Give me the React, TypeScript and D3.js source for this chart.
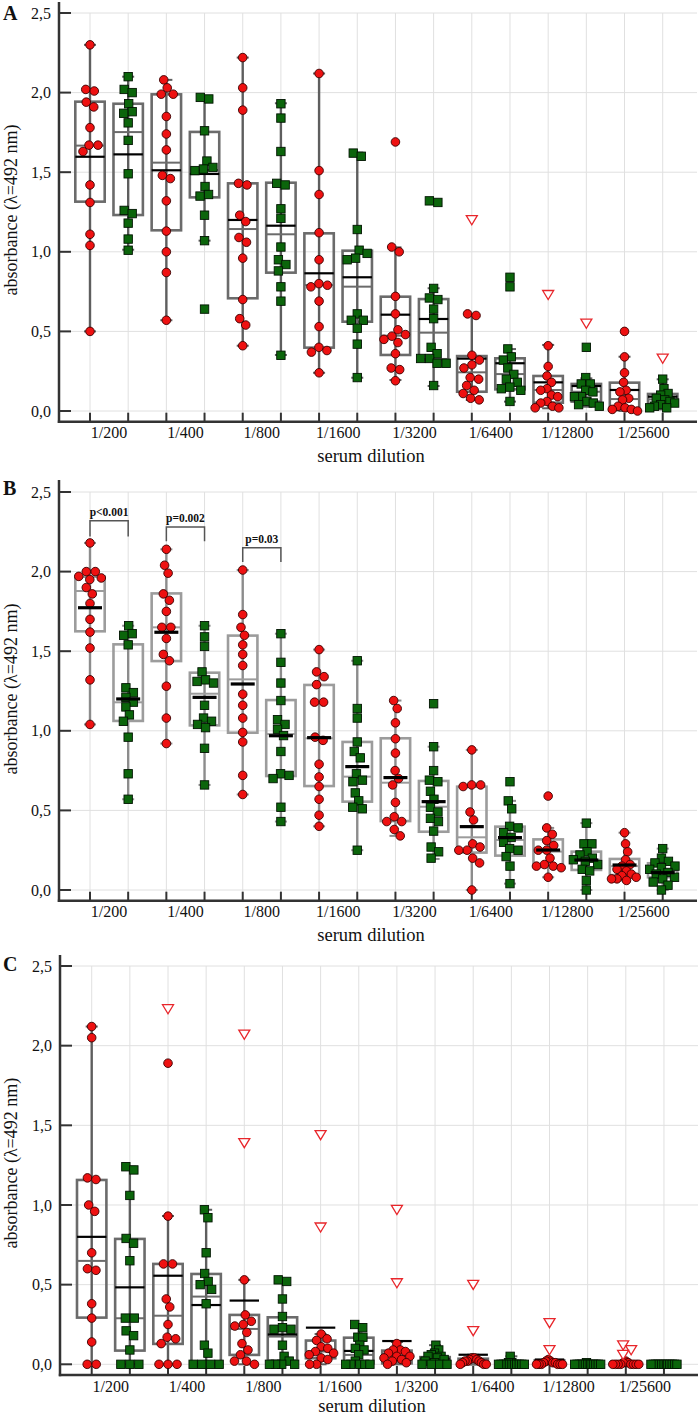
import React from "react";
import * as d3 from "d3";

// ---------------- DATA ----------------
const dilutions = ["1/200", "1/400", "1/800", "1/1600", "1/3200", "1/6400", "1/12800", "1/25600"];
const yTicks = [0, 0.5, 1, 1.5, 2, 2.5];
const yTickLabels = ["0,0", "0,5", "1,0", "1,5", "2,0", "2,5"];
const panelLetters = ["A", "B", "C"];
const xTitle = "serum dilution";
const yTitle = "absorbance (λ=492 nm)";

// Panel A
const A_red = [
  [2.30, 2.02, 2.01, 1.94, 1.91, 1.78, 1.67, 1.67, 1.63, 1.42, 1.31, 1.11, 1.04, 0.50],
  [2.08, 2.03, 1.99, 1.99, 1.85, 1.74, 1.64, 1.48, 1.46, 1.32, 1.13, 1.00, 0.87, 0.57],
  [2.22, 2.03, 1.89, 1.43, 1.42, 1.23, 1.19, 1.09, 1.06, 0.96, 0.70, 0.58, 0.54, 0.41],
  [2.12, 1.51, 1.36, 1.12, 0.95, 0.80, 0.79, 0.78, 0.69, 0.53, 0.40, 0.38, 0.37, 0.24],
  [1.69, 1.03, 1.00, 0.72, 0.61, 0.51, 0.48, 0.47, 0.45, 0.43, 0.36, 0.27, 0.26, 0.19],
  [0.61, 0.60, 0.35, 0.32, 0.29, 0.27, 0.21, 0.20, 0.16, 0.13, 0.11, 0.08, 0.07],
  [0.41, 0.28, 0.22, 0.18, 0.14, 0.13, 0.10, 0.09, 0.06, 0.05, 0.03, 0.02, 0.02],
  [0.50, 0.34, 0.24, 0.18, 0.13, 0.12, 0.08, 0.07, 0.03, 0.02, 0.01, 0.01, 0.00],
];
const A_green = [
  [2.10, 2.02, 2.00, 1.93, 1.88, 1.87, 1.81, 1.70, 1.49, 1.26, 1.24, 1.18, 1.08, 1.01],
  [1.97, 1.96, 1.76, 1.57, 1.53, 1.52, 1.51, 1.41, 1.36, 1.35, 1.23, 1.07, 0.64],
  [1.93, 1.84, 1.63, 1.43, 1.42, 1.27, 1.21, 1.03, 0.95, 0.92, 0.88, 0.78, 0.69, 0.35],
  [1.62, 1.60, 1.14, 1.01, 0.99, 0.96, 0.95, 0.61, 0.57, 0.57, 0.52, 0.42, 0.21],
  [1.32, 1.31, 0.77, 0.71, 0.70, 0.64, 0.58, 0.40, 0.36, 0.33, 0.33, 0.30, 0.30, 0.16],
  [0.84, 0.78, 0.39, 0.34, 0.32, 0.27, 0.23, 0.20, 0.18, 0.15, 0.14, 0.13, 0.06],
  [0.40, 0.21, 0.17, 0.17, 0.13, 0.12, 0.09, 0.09, 0.06, 0.05, 0.04, 0.03],
  [0.20, 0.14, 0.11, 0.10, 0.08, 0.07, 0.06, 0.05, 0.04, 0.03, 0.02, 0.02],
];
// box stats: [whiskerLow, q1, median, q3, whiskerHigh, mean]
const A_redBox = [
  [0.50, 1.315, 1.667, 1.943, 2.30, 1.597],
  [0.57, 1.135, 1.56, 1.989, 2.08, 1.512],
  [0.41, 0.708, 1.143, 1.43, 2.22, 1.20],
  [0.24, 0.398, 0.791, 1.116, 2.12, 0.865],
  [0.195, 0.352, 0.473, 0.718, 1.028, 0.605],
  [0.069, 0.121, 0.243, 0.345, 0.607, 0.329],
  [0.017, 0.052, 0.132, 0.22, 0.415, 0.18],
  [0.0, 0.006, 0.075, 0.178, 0.341, 0.132],
];
const A_greenBox = [
  [1.013, 1.231, 1.752, 1.93, 2.10, 1.612],
  [1.07, 1.342, 1.514, 1.753, 1.97, 1.489],
  [0.352, 0.869, 1.11, 1.434, 1.933, 1.164],
  [0.209, 0.561, 0.781, 1.007, 1.623, 0.84],
  [0.157, 0.325, 0.492, 0.703, 0.771, 0.578],
  [0.059, 0.136, 0.232, 0.331, 0.389, 0.30],
  [0.027, 0.059, 0.121, 0.17, 0.205, 0.157],
  [0.01, 0.038, 0.073, 0.107, 0.199, 0.09],
];
const A_redOut = [[], [], [], [], [], [1.20], [0.73], []];
const A_greenOut = [[], [], [], [], [], [], [0.55], [0.33]];

// Panel B
const B_red = [
  [2.18, 2.00, 2.00, 1.97, 1.96, 1.95, 1.90, 1.86, 1.80, 1.70, 1.62, 1.52, 1.32, 1.04],
  [2.14, 2.04, 1.99, 1.86, 1.82, 1.75, 1.65, 1.65, 1.58, 1.48, 1.44, 1.28, 1.08, 0.92],
  [2.01, 1.73, 1.65, 1.60, 1.54, 1.48, 1.41, 1.23, 1.16, 1.08, 0.99, 0.93, 0.72, 0.60],
  [1.51, 1.37, 1.34, 1.29, 1.18, 1.18, 0.96, 0.94, 0.79, 0.71, 0.65, 0.57, 0.47, 0.40],
  [1.19, 1.14, 1.05, 0.95, 0.86, 0.75, 0.70, 0.66, 0.55, 0.46, 0.43, 0.43, 0.38, 0.34],
  [0.88, 0.66, 0.66, 0.65, 0.49, 0.44, 0.29, 0.27, 0.25, 0.25, 0.20, 0.17, 0.00],
  [0.59, 0.39, 0.35, 0.31, 0.28, 0.25, 0.25, 0.20, 0.16, 0.15, 0.15, 0.14, 0.08],
  [0.36, 0.29, 0.24, 0.19, 0.16, 0.15, 0.13, 0.12, 0.10, 0.09, 0.08, 0.07, 0.07, 0.06],
];
const B_green = [
  [1.66, 1.61, 1.60, 1.54, 1.27, 1.24, 1.21, 1.18, 1.15, 1.10, 1.06, 0.96, 0.73, 0.57],
  [1.66, 1.59, 1.53, 1.37, 1.32, 1.31, 1.30, 1.16, 1.08, 1.06, 1.04, 1.02, 0.89, 0.66],
  [1.61, 1.43, 1.30, 1.19, 1.07, 1.04, 1.01, 0.97, 0.87, 0.73, 0.72, 0.70, 0.52, 0.43],
  [1.44, 1.14, 1.08, 0.93, 0.87, 0.83, 0.73, 0.69, 0.68, 0.61, 0.56, 0.52, 0.51, 0.25],
  [1.17, 0.90, 0.75, 0.69, 0.68, 0.62, 0.57, 0.52, 0.49, 0.45, 0.43, 0.37, 0.27, 0.24, 0.20],
  [0.68, 0.56, 0.51, 0.40, 0.39, 0.36, 0.33, 0.30, 0.26, 0.25, 0.21, 0.15, 0.04],
  [0.42, 0.29, 0.29, 0.24, 0.22, 0.20, 0.19, 0.18, 0.16, 0.13, 0.12, 0.06, 0.00],
  [0.26, 0.20, 0.18, 0.17, 0.15, 0.14, 0.13, 0.11, 0.10, 0.08, 0.07, 0.05, 0.03, 0.00],
];
const B_redBox = [
  [1.04, 1.625, 1.878, 1.968, 2.18, 1.773],
  [0.92, 1.438, 1.65, 1.863, 2.14, 1.619],
  [0.60, 0.988, 1.323, 1.598, 2.01, 1.294],
  [0.40, 0.653, 0.953, 1.288, 1.51, 0.957],
  [0.34, 0.433, 0.674, 0.953, 1.19, 0.706],
  [0.00, 0.235, 0.331, 0.649, 0.88, 0.398],
  [0.08, 0.147, 0.241, 0.318, 0.39, 0.251],
  [0.06, 0.094, 0.15, 0.195, 0.36, 0.157],
];
const B_greenBox = [
  [0.57, 1.062, 1.179, 1.543, 1.66, 1.20],
  [0.66, 1.034, 1.233, 1.365, 1.66, 1.21],
  [0.43, 0.716, 0.98, 1.193, 1.61, 0.969],
  [0.25, 0.555, 0.712, 0.93, 1.44, 0.775],
  [0.195, 0.366, 0.523, 0.685, 0.90, 0.555],
  [0.04, 0.216, 0.314, 0.398, 0.56, 0.329],
  [0.00, 0.126, 0.19, 0.241, 0.42, 0.188],
  [0.00, 0.08, 0.121, 0.168, 0.26, 0.109],
];
const B_redOut = [[], [], [], [], [], [], [], []];
const B_greenOut = [[], [], [], [], [], [], [], []];
const pLabels = ["p<0.001", "p=0.002", "p=0.03"];
const pBracketTop = [2.32, 2.28, 2.15];
const pBracketLeg = [2.22, 2.19, 2.06];

// Panel C
const C_red = [
  [2.12, 2.05, 1.17, 1.16, 1.00, 0.96, 0.70, 0.60, 0.59, 0.38, 0.29, 0.14, 0.00, 0.00],
  [1.89, 0.93, 0.63, 0.63, 0.41, 0.36, 0.25, 0.17, 0.16, 0.13, 0.00, 0.00, 0.00],
  [0.53, 0.31, 0.27, 0.25, 0.24, 0.20, 0.13, 0.09, 0.06, 0.02, 0.02, 0.00],
  [0.19, 0.16, 0.15, 0.11, 0.10, 0.08, 0.07, 0.06, 0.04, 0.03, 0.00, 0.00],
  [0.13, 0.09, 0.09, 0.08, 0.07, 0.05, 0.05, 0.04, 0.03, 0.02, 0.01, 0.00],
  [0.04, 0.04, 0.03, 0.03, 0.02, 0.02, 0.02, 0.01, 0.01, 0.00, 0.00, 0.00],
  [0.03, 0.02, 0.02, 0.01, 0.01, 0.01, 0.00, 0.00, 0.00, 0.00, 0.00, 0.00],
  [0.02, 0.01, 0.01, 0.00, 0.00, 0.00, 0.00, 0.00, 0.00, 0.00, 0.00],
];
const C_green = [
  [1.24, 1.22, 1.06, 0.79, 0.76, 0.65, 0.29, 0.29, 0.21, 0.18, 0.09, 0.00, 0.00, 0.00],
  [0.97, 0.92, 0.70, 0.57, 0.52, 0.50, 0.47, 0.38, 0.12, 0.07, 0.00, 0.00, 0.00, 0.00],
  [0.53, 0.52, 0.41, 0.30, 0.23, 0.22, 0.22, 0.12, 0.05, 0.02, 0.00, 0.00, 0.00, 0.00],
  [0.25, 0.23, 0.17, 0.17, 0.12, 0.10, 0.09, 0.06, 0.02, 0.00, 0.00, 0.00, 0.00, 0.00],
  [0.12, 0.09, 0.07, 0.06, 0.05, 0.05, 0.04, 0.03, 0.02, 0.01, 0.00, 0.00, 0.00, 0.00],
  [0.05, 0.01, 0.01, 0.00, 0.00, 0.00, 0.00, 0.00, 0.00, 0.00, 0.00, 0.00],
  [0.01, 0.00, 0.00, 0.00, 0.00, 0.00, 0.00, 0.00, 0.00, 0.00, 0.00, 0.00],
  [0.00, 0.00, 0.00, 0.00, 0.00, 0.00, 0.00, 0.00, 0.00, 0.00, 0.00, 0.00],
];
const C_redBox = [
  [0.00, 0.293, 0.649, 1.157, 2.12, 0.80],
  [0.00, 0.128, 0.305, 0.63, 0.931, 0.556],
  [0.00, 0.059, 0.222, 0.31, 0.53, 0.40],
  [0.00, 0.038, 0.08, 0.149, 0.19, 0.23],
  [0.00, 0.006, 0.052, 0.086, 0.14, 0.146],
  [0.00, 0.00, 0.01, 0.035, 0.06, 0.06],
  [0.00, 0.00, 0.005, 0.025, 0.03, 0.03],
  [0.00, 0.00, 0.00, 0.015, 0.02, 0.02],
];
const C_greenBox = [
  [0.00, 0.086, 0.289, 0.787, 1.24, 0.483],
  [0.00, 0.00, 0.425, 0.567, 0.97, 0.372],
  [0.00, 0.023, 0.174, 0.295, 0.53, 0.187],
  [0.00, 0.006, 0.059, 0.167, 0.25, 0.084],
  [0.00, 0.00, 0.02, 0.045, 0.12, 0.035],
  [0.00, 0.00, 0.00, 0.01, 0.05, 0.006],
  [0.00, 0.00, 0.00, 0.01, 0.01, 0.002],
  [0.00, 0.00, 0.00, 0.01, 0.00, 0.0],
];
const C_redOut = [[], [2.23], [2.07, 1.39], [1.44, 0.86], [0.97, 0.51], [0.50, 0.21], [0.26, 0.09], [0.12, 0.09, 0.06]];
const C_greenOut = [[], [], [], [], [], [], [], []];

// ---------------- LAYOUT ----------------
const FONT = '"Liberation Serif", "Times New Roman", Tinos, "DejaVu Serif", serif';
const geoms = [
  { axisX: 59, axisTop: 2, y0: 411, y25: 13, xAxisY: 421.7, firstX: 90, step: 38.18, right: 697, letterY: 20, titleDy: 40 },
  { axisX: 59, axisTop: 480, y0: 890, y25: 492, xAxisY: 900.7, firstX: 90, step: 38.18, right: 697, letterY: 495, titleDy: 40 },
  { axisX: 60, axisTop: 955, y0: 1364.3, y25: 966, xAxisY: 1375, firstX: 91.7, step: 38.15, right: 698, letterY: 971, titleDy: 37 },
];
const styles = [
  { box: "#6b6b6b", whisker: "#5e5e5e", median: "#6b6b6b", meanW: 2.2, meanHalf: 14.7, meanOnTop: false },
  { box: "#9c9c9c", whisker: "#8c8c8c", median: "#9c9c9c", meanW: 3.2, meanHalf: 12, meanOnTop: true },
  { box: "#6b6b6b", whisker: "#5e5e5e", median: "#6b6b6b", meanW: 2.2, meanHalf: 14.7, meanOnTop: false },
];
const reds = [A_red, B_red, C_red];
const greens = [A_green, B_green, C_green];
const redBoxes = [A_redBox, B_redBox, C_redBox];
const greenBoxes = [A_greenBox, B_greenBox, C_greenBox];
const redOuts = [A_redOut, B_redOut, C_redOut];
const greenOuts = [A_greenOut, B_greenOut, C_greenOut];

const RED = "#ee1111";
const GREEN = "#0b650b";
const BOX_HALF = 14.7;
const TXT = { fontFamily: FONT };

function dodge(ys: number[], D: number, maxHalf: number): number[] {
  const n = ys.length;
  const order = d3.range(n).sort((a, b) => ys[a] - ys[b]);
  const xs = new Array(n).fill(0);
  const done: number[] = [];
  for (const i of order) {
    let chosen = 0;
    outer: for (let m = 0; m <= 300; m++) {
      const cands = m === 0 ? [0] : [m * 0.5, -m * 0.5];
      for (const c of cands) {
        let ok = true;
        for (const j of done) {
          const dx = c - xs[j];
          const dy = ys[i] - ys[j];
          if (dx * dx + dy * dy < D * D - 1e-6) { ok = false; break; }
        }
        if (ok) { chosen = c; break outer; }
      }
    }
    xs[i] = chosen;
    done.push(i);
  }
  const clusters: number[][] = [];
  let cur: number[] = [];
  order.forEach((i, k) => {
    if (k > 0 && ys[i] - ys[order[k - 1]] >= D) { clusters.push(cur); cur = []; }
    cur.push(i);
  });
  if (cur.length) clusters.push(cur);
  for (const c of clusters) {
    const mean = d3.mean(c, (i) => xs[i]) as number;
    c.forEach((i) => { xs[i] -= mean; });
    const mx = d3.max(c, (i) => Math.abs(xs[i])) as number;
    if (mx > maxHalf) c.forEach((i) => { xs[i] *= maxHalf / mx; });
  }
  return xs;
}

type Group = { kind: "red" | "green"; cx: number; vals: number[]; box: number[]; out: number[] };

function Panel({ p }: { p: number }) {
  const g = geoms[p];
  const s = styles[p];
  const y = d3.scaleLinear().domain([0, 2.5]).range([g.y0, g.y25]);
  const band = d3
    .scaleBand<string>()
    .domain(dilutions)
    .range([g.firstX - g.step / 2, g.firstX - g.step / 2 + 16 * g.step]);
  const groups: Group[] = [];
  dilutions.forEach((d, i) => {
    const b0 = band(d) as number;
    groups.push({ kind: "red", cx: b0 + g.step / 2, vals: reds[p][i], box: redBoxes[p][i], out: redOuts[p][i] });
    groups.push({ kind: "green", cx: b0 + 1.5 * g.step, vals: greens[p][i], box: greenBoxes[p][i], out: greenOuts[p][i] });
  });
  const grid = "#e0e0e0";
  const axisCol = "#333";

  const meanLine = (gr: Group, k: string) => (
    <line key={k} x1={gr.cx - s.meanHalf} x2={gr.cx + s.meanHalf} y1={y(gr.box[5])} y2={y(gr.box[5])} stroke="#000" strokeWidth={s.meanW} />
  );

  return (
    <g>
      {/* grid */}
      {yTicks.map((t) => (
        <line key={"hg" + t} x1={g.axisX} x2={g.right} y1={y(t)} y2={y(t)} stroke={grid} strokeWidth={1} />
      ))}
      {groups.map((gr, i) => (
        <line key={"vg" + i} x1={gr.cx} x2={gr.cx} y1={y(2.5)} y2={g.xAxisY} stroke={grid} strokeWidth={1} />
      ))}
      {/* axes */}
      <line x1={g.axisX} x2={g.axisX} y1={g.axisTop} y2={g.xAxisY + 1.2} stroke={axisCol} strokeWidth={2.5} />
      <line x1={g.axisX - 1.2} x2={g.right} y1={g.xAxisY} y2={g.xAxisY} stroke={axisCol} strokeWidth={2.5} />
      {yTicks.map((t, i) => (
        <g key={"yt" + t}>
          <line x1={g.axisX} x2={g.axisX + 12} y1={y(t)} y2={y(t)} stroke={axisCol} strokeWidth={2} />
          <text x={g.axisX - 8} y={y(t)} dy="0.35em" textAnchor="end" fontSize={16} fill="#111" style={TXT}>
            {yTickLabels[i]}
          </text>
        </g>
      ))}
      {groups.map((gr, i) => (
        <line key={"xt" + i} x1={gr.cx} x2={gr.cx} y1={g.xAxisY - 9} y2={g.xAxisY} stroke={axisCol} strokeWidth={2} />
      ))}
      {dilutions.map((d) => (
        <text key={"xl" + d} x={(band(d) as number) + band.bandwidth() / 2} y={g.xAxisY + 16.5} textAnchor="middle" fontSize={16} fill="#111" style={TXT}>
          {d}
        </text>
      ))}
      <text x={(g.axisX + g.right) / 2 - 7} y={g.xAxisY + g.titleDy} textAnchor="middle" fontSize={18.5} fill="#111" style={TXT}>
        {xTitle}
      </text>
      <text transform={`translate(17,${(g.y0 + g.y25) / 2 - 2}) rotate(-90)`} textAnchor="middle" fontSize={18} fill="#111" style={TXT}>
        {yTitle}
      </text>
      <text x={3} y={g.letterY} fontSize={20} fontWeight="bold" fill="#111" style={TXT}>
        {panelLetters[p]}
      </text>

      {/* boxes */}
      {groups.map((gr, i) => {
        const [lo, q1, med, q3, hi] = gr.box;
        return (
          <g key={"bx" + i}>
            <line x1={gr.cx} x2={gr.cx} y1={y(lo)} y2={y(hi)} stroke={s.whisker} strokeWidth={2.4} />
            <line x1={gr.cx - 6} x2={gr.cx + 6} y1={y(lo)} y2={y(lo)} stroke={s.whisker} strokeWidth={2} />
            <line x1={gr.cx - 6} x2={gr.cx + 6} y1={y(hi)} y2={y(hi)} stroke={s.whisker} strokeWidth={2} />
            <rect x={gr.cx - BOX_HALF} width={BOX_HALF * 2} y={y(q3)} height={Math.max(0.5, y(q1) - y(q3))} fill="none" stroke={s.box} strokeWidth={2.6} />
            <line x1={gr.cx - BOX_HALF} x2={gr.cx + BOX_HALF} y1={y(med)} y2={y(med)} stroke={s.median} strokeWidth={2} />
            {!s.meanOnTop && meanLine(gr, "m")}
          </g>
        );
      })}

      {/* points */}
      {groups.map((gr, i) => {
        const ys = gr.vals.map((v) => y(v));
        const xs = dodge(ys, 8.6, 13);
        return (
          <g key={"pt" + i}>
            {ys.map((yy, k) =>
              gr.kind === "red" ? (
                <circle key={k} cx={gr.cx + xs[k]} cy={yy} r={4.3} fill={RED} stroke="#3a0000" strokeWidth={0.9} />
              ) : (
                <rect key={k} x={gr.cx + xs[k] - 4.2} y={yy - 4.2} width={8.4} height={8.4} fill={GREEN} stroke="#001400" strokeWidth={0.9} />
              )
            )}
          </g>
        );
      })}

      {/* outlier triangles */}
      {groups.map((gr, i) => {
        const ys = gr.out.map((v) => y(v));
        const xs = dodge(ys, 9, 8);
        return (
          <g key={"tr" + i}>
            {ys.map((yy, k) => {
              const x = gr.cx + xs[k];
              return (
                <path key={k} d={`M${x - 5.5},${yy - 4.3}L${x + 5.5},${yy - 4.3}L${x},${yy + 4.8}Z`} fill="#fff" stroke="#e8262b" strokeWidth={1.3} />
              );
            })}
          </g>
        );
      })}

      {s.meanOnTop && groups.map((gr, i) => meanLine(gr, "mt" + i))}

      {/* p-value brackets */}
      {p === 1 &&
        pLabels.map((lab, i) => {
          const x1 = groups[i * 2].cx;
          const x2 = groups[i * 2 + 1].cx;
          const yt = y(pBracketTop[i]);
          const yl = y(pBracketLeg[i]);
          return (
            <g key={"pv" + i}>
              <path d={`M${x1},${yl}V${yt}H${x2}V${yl}`} fill="none" stroke="#555" strokeWidth={1.5} />
              <text x={(x1 + x2) / 2} y={yt - 5} textAnchor="middle" fontSize={11.5} fontWeight="bold" fill="#111" style={TXT}>
                {lab}
              </text>
            </g>
          );
        })}
    </g>
  );
}

export default function App() {
  const W = 700;
  const H = 1417;
  return (
    <svg width={W} height={H} viewBox={`0 0 ${W} ${H}`} style={{ position: "absolute", left: 0, top: 0, display: "block", fontFamily: FONT }}>
      <rect width={W} height={H} fill="#fff" />
      {[0, 1, 2].map((p) => (
        <Panel key={p} p={p} />
      ))}
    </svg>
  );
}
